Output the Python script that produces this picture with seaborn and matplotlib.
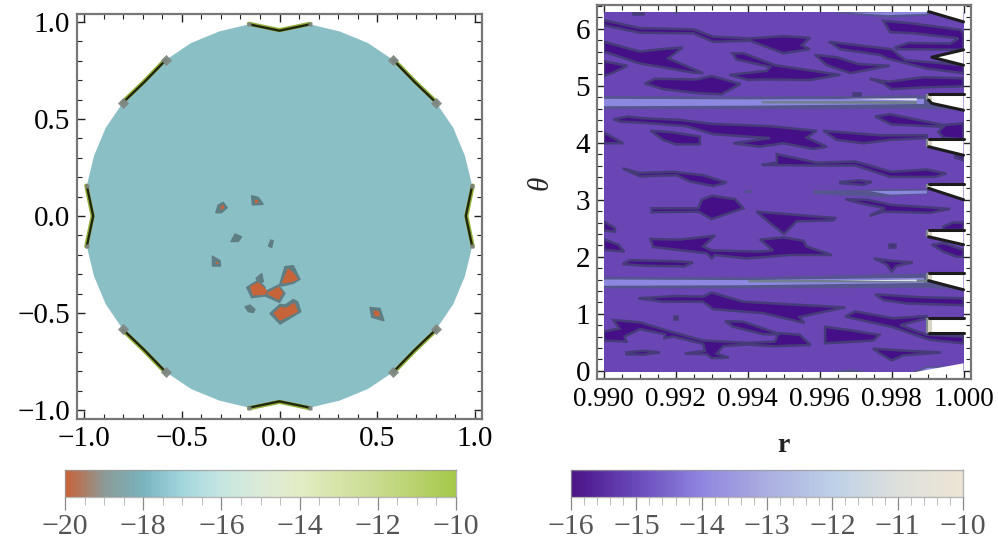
import numpy as np
import matplotlib
matplotlib.use("Agg")
import matplotlib.pyplot as plt
from matplotlib.colors import LinearSegmentedColormap
from matplotlib.patches import Polygon
from matplotlib.ticker import MultipleLocator
import seaborn as sns

sns.set_style("ticks")
plt.rcParams['font.family'] = ['Liberation Serif', 'DejaVu Serif']

# ---------- colour scales ----------
left_stops = ["#C8643A", "#8B9A98", "#79B4BE", "#A3D6DE", "#C6E6E2", "#DCEBD8", "#E3EDC5", "#D6E4A8", "#C9DC8F", "#B8D26E", "#A7C94A"]
right_stops = ["#4A1486", "#6A4ABB", "#8F86E0", "#ABAEE0", "#BDD0E8", "#DDE0DC", "#EDE5D5"]
left_ticks = [-20, -18, -16, -14, -12, -10]
right_ticks = [-16, -15, -14, -13, -12, -11, -10]

# ---------- left panel: disc sampled every 9 degrees ----------
disc_radii = [0.955, 1, 1, 1, 0.993, 0.978, 0.993, 1, 1, 1,
              0.955, 1, 1, 1, 0.993, 0.978, 0.993, 1, 1, 1,
              0.955, 1, 1, 1, 0.993, 0.978, 0.993, 1, 1, 1,
              0.955, 1, 1, 1, 0.993, 0.978, 0.993, 1, 1, 1]
notch_centres = [0, 5, 10, 15, 20, 25, 30, 35]

left_outer = [
    [(-.327,.017),(-.314,.057),(-.288,.070),(-.268,.043),(-.297,.017)],
    [(-.143,.105),(-.109,.096),(-.083,.060),(-.139,.057)],
    [(-.249,-.132),(-.228,-.093),(-.194,-.107),(-.211,-.131)],
    [(-.057,-.155),(-.045,-.124),(-.032,-.127),(-.040,-.162)],
    [(-.344,-.206),(-.305,-.230),(-.302,-.258),(-.344,-.258)],
    [(-.177,-.467),(-.151,-.459),(-.126,-.481),(-.134,-.497),(-.160,-.493)],
    [(-.12,-.321),(-.091,-.296),(-.083,-.338),(-.105,-.347)],
    [(-.168,-.368),(-.109,-.33),(-.074,-.368),(-.074,-.39),(-.006,-.356),(.028,-.399),(0,-.445),(-.074,-.412),(-.143,-.421)],
    [(0,-.356),(.028,-.261),(.071,-.256),(.105,-.326),(.071,-.347),(.011,-.361)],
    [(-.049,-.502),(.003,-.455),(.028,-.459),(.071,-.430),(.093,-.442),(.109,-.493),(.003,-.557)],
    [(.464,-.471),(.515,-.476),(.536,-.54),(.473,-.522)],
]
left_inner = [
    [(-.148,-.364),(-.109,-.344),(-.066,-.385),(-.074,-.402),(-.134,-.407)],
    [(-.062,-.399),(-.006,-.368),(.016,-.395),(-.006,-.430)],
    [(.015,-.344),(.045,-.273),(.074,-.299),(.091,-.326),(.062,-.338)],
    [(-.028,-.502),(.006,-.471),(.033,-.476),(.076,-.45),(.092,-.493),(.003,-.536)],
    [(.485,-.49),(.507,-.493),(.512,-.514),(.49,-.514)],
    [(-.30,.045),(-.29,.055),(-.285,.045),(-.295,.035)],
    [(-.125,.083),(-.115,.083),(-.115,.072),(-.125,.072)],
    [(-.328,-.235),(-.32,-.235),(-.32,-.243),(-.328,-.243)],
]

# ---------- right panel: r above 0.99 in units of 0.001, then theta ----------
dark_patches = [
    [(0,6.15),(1.0,6.01),(2.49,5.99),(3.04,5.86),(4.06,5.83),(4.99,5.87),(5.73,5.84),(5.5,5.71),(5.73,5.64),(4.99,5.57),(4.06,5.79),(3.04,5.77),(2.49,5.92),(1.0,5.93),(0,6.06)],
    [(0,5.77),(1,5.6),(1.74,5.65),(2.19,5.67),(1.79,5.48),(2.76,5.22),(2.49,5.23),(1,5.39),(0,5.6)],
    [(0,5.43),(0.65,5.35),(0.26,5.23),(0,5.17)],
    [(1.14,5.04),(1.42,5.12),(2.58,5.11),(3.0,5.17),(3.8,5.03),(3.27,4.85),(2.58,4.87),(1.65,4.94)],
    [(3.58,5.57),(3.88,5.57),(4.76,5.36),(6.57,5.19),(5.73,5.10),(4.43,5.11),(4.02,5.10),(3.49,5.19),(4.06,5.23),(4.53,5.26),(4.62,5.33),(3.69,5.46)],
    [(6.26,5.77),(8,5.64),(8.38,5.45),(10,5.36),(10,5.22),(8.98,5.30),(7.87,5.48),(7.68,5.54),(6.57,5.64)],
    [(5.87,5.54),(6.47,5.5),(7.08,5.38),(7.94,5.35),(6.85,5.22),(6.2,5.36)],
    [(7.77,6.14),(8.61,6.09),(9.91,5.98),(10,5.92),(10,5.63),(8.14,5.64),(8.1,5.67),(8.47,5.75),(9.63,5.74),(9.86,5.83),(8.61,5.92),(7.96,5.94)],
    [(7.4,5.12),(7.91,5.07),(8.89,5.15),(10,5.13),(10,4.99),(8.89,4.97),(8,4.94),(7.77,5.04)],
    [(6.92,4.88),(7.11,4.88),(7.11,4.84),(6.92,4.84)],
    [(0.8,6.30),(1.1,6.30),(1.1,6.26),(0.8,6.26)],
    [(0.26,4.41),(0.68,4.46),(1.09,4.43),(2.12,4.4),(3,4.33),(4.62,4.29),(5.73,4.22),(5.92,4.21),(5.64,4.09),(6.2,3.93),(5.83,3.89),(4.99,3.99),(4.34,3.93),(3.6,3.99),(4.62,4.08),(3.04,4.15),(2.3,4.29),(1.09,4.35),(0.45,4.37)],
    [(6.1,4.21),(7.68,4.13),(8.98,4.13),(8.98,4.08),(7.96,4.05),(7.22,3.99),(6.47,4.05)],
    [(7.54,4.46),(7.96,4.5),(9.44,4.31),(10,4.34),(10,4.06),(9.44,4.09),(9.3,4.19),(9.44,4.28),(8,4.32)],
    [(0,4.18),(0.54,3.99),(0,3.99)],
    [(1.3,4.21),(1.79,4.19),(2.67,4.11),(2.67,3.97),(2.02,3.97),(1.65,4.05)],
    [(4.81,3.8),(5.92,3.65),(6.99,3.67),(8,3.49),(8.98,3.53),(9.52,3.46),(9.21,3.4),(7.96,3.4),(6.99,3.6),(5.83,3.6),(4.39,3.61),(4.81,3.65)],
    [(9.77,3.8),(10,3.75),(10,3.69),(9.77,3.74)],
    [(0.52,3.55),(1,3.47),(1.93,3.49),(2.76,3.43),(3.41,3.3),(3.04,3.24),(2.39,3.32),(2.02,3.43),(1,3.41)],
    [(6.57,3.31),(7.08,3.34),(7.45,3.31),(7.22,3.26),(6.57,3.29)],
    [(1.33,2.85),(2.63,2.85),(2.72,3),(3,3.07),(3.65,3.01),(3.88,2.85),(3,2.66),(2.63,2.79),(1.33,2.78)],
    [(4.25,2.79),(6.43,2.68),(6.38,2.64),(5.36,2.62),(5.01,2.4),(4.62,2.59)],
    [(6.71,3.01),(7.31,3.0),(8,2.91),(9.63,2.84),(9.07,2.77),(7.77,2.79),(7.4,2.72),(7.82,2.85),(7.12,2.94)],
    [(0,2.62),(0.31,2.5),(0.31,2.44),(0,2.46)],
    [(0,2.31),(0.4,2.21),(0.57,2.09),(0,2.12)],
    [(1.3,2.31),(2.12,2.3),(3.09,2.37),(2.76,2.18),(3,2.11),(4.34,2.09),(4.71,2.11),(4.34,2.3),(4.99,2.34),(5.55,2.28),(5.64,2.18),(6.34,2.03),(5.18,2.03),(3.97,1.97),(3.09,2.03),(3,1.97),(2.86,2.06),(1.37,2.17)],
    [(0.52,1.87),(0.72,1.94),(2.02,1.92),(2.47,1.9),(2.25,1.83),(1.19,1.84)],
    [(7.51,1.97),(7.96,1.93),(8.59,1.9),(8.14,1.84),(8,1.74),(7.87,1.86)],
    [(7.94,2.23),(8.1,2.23),(8.1,2.17),(7.94,2.17)],
    [(9.12,2.21),(9.44,2.24),(10,2.12),(10,2.0),(9.81,2.0),(9.44,2.09)],
    [(9.44,2.53),(9.72,2.6),(10,2.6),(10,2.47),(9.44,2.47)],
    [(0.96,1.27),(1.93,1.31),(2.76,1.3),(3,1.37),(3.88,1.21),(6.71,1.11),(6.01,1.02),(5.44,0.94),(5.57,0.84),(4.43,1.01),(3.04,1.08),(2.76,1.21),(1.65,1.21)],
    [(7.54,1.34),(8.79,1.29),(10,1.27),(10,1.15),(8.42,1.18),(7.77,1.24)],
    [(0,0.69),(0.43,0.74),(0.26,0.89),(1,0.85),(1.84,0.69),(2.76,0.53),(3.97,0.49),(4.76,0.51),(4.85,0.66),(5.45,0.63),(5.75,0.45),(4.71,0.43),(3.97,0.46),(3.32,0.43),(3.14,0.3),(3.48,0.23),(3,0.22),(2.86,0.29),(2.25,0.3),(2.81,0.35),(2.76,0.47),(1.93,0.6),(1.68,0.57),(1.7,0.64),(1,0.73),(0.58,0.6),(0.63,0.51),(0,0.53)],
    [(3.37,0.87),(3.88,0.86),(4.9,0.64),(4.43,0.64),(3.6,0.77)],
    [(0.63,0.32),(1.09,0.35),(1.56,0.32),(1.09,0.28),(0.63,0.29)],
    [(1.95,0.96),(2.04,0.96),(2.04,0.91),(1.95,0.91)],
    [(6.15,0.77),(6.85,0.71),(7.66,0.63),(7.5,0.53),(6.15,0.48)],
    [(6.71,0.95),(6.99,1.04),(8.05,0.92),(8.98,0.96),(8.98,0.92),(8.24,0.8),(8.98,0.63),(10,0.6),(10,0.48),(9.07,0.54),(8,0.77)],
    [(7.48,0.39),(8.14,0.36),(9.37,0.32),(8.33,0.27),(8,0.18),(7.68,0.3)],
]
grey_specks = [
    [(1.95,6.30),(2.1,6.30),(2.1,6.26),(1.95,6.26)],
    [(3.92,3.17),(4.11,3.17),(4.11,3.12),(3.92,3.12)],
]
band_outer = [
    [(0,4.81),(4,4.80),(9.0,4.83),(9.2,4.68),(10,4.58),(9,4.60),(4,4.60),(0,4.60)],
    [(0,1.64),(4,1.63),(9.0,1.70),(9.2,1.52),(10,1.42),(9,1.46),(4,1.45),(0,1.45)],
    [(6.43,6.28),(9.03,6.30),(9.03,6.24),(7.96,6.2),(7.22,6.24)],
    [(5.83,3.16),(7.4,3.17),(8.98,3.18),(9.03,3.11),(7.68,3.05),(5.83,3.11)],
    [(6.29,-0.03),(6.85,0.02),(7.31,-0.03)],
    [(8.6,-0.03),(8.95,0.07),(9.5,0.08),(9.6,-0.03)],
]
band_light = [
    [(0,4.77),(4,4.76),(8.9,4.77),(8.9,4.68),(4,4.65),(0,4.64)],
    [(0,1.60),(4,1.59),(8.9,1.63),(8.9,1.54),(4,1.50),(0,1.49)],
    [(6.8,6.28),(8.98,6.30),(8.98,6.26),(7.9,6.24)],
    [(7.4,3.15),(8.98,3.16),(8.98,3.11),(7.96,3.09)],
    [(8.7,-0.03),(9.0,0.05),(9.4,0.05),(9.5,-0.03)],
]
band_grey = [
    [(4.39,4.73),(8.7,4.73),(8.7,4.68),(4.39,4.69)],
    [(4.02,1.59),(6.5,1.59),(9.0,1.60),(9.0,1.55),(4.02,1.55)],
]
band_pale = [
    [(6.7,4.77),(8.7,4.78),(8.7,4.74)],
    [(6.5,1.58),(8.7,1.60),(8.7,1.57)],
]
# each notch: upper edge, tip, lower edge (open towards r = 1)
notches = [
    [(9.03,6.30),(10,6.12)],
    [(10,5.63),(9.12,5.50),(10,5.36)],
    [(10,4.85),(9.03,4.85),(9.03,4.75),(9.12,4.69),(10,4.57)],
    [(10,4.06),(9.03,4.06),(9.03,3.93),(10,3.78)],
    [(10,3.27),(9.03,3.27),(9.03,3.2),(10,3.0)],
    [(10,2.47),(9.03,2.47),(9.03,2.35),(10,2.21)],
    [(10,1.71),(9.03,1.71),(9.03,1.58),(10,1.42)],
    [(10,0.92),(9.03,0.92),(9.03,0.66),(10,0.66)],
]
notch_top_wedge = [(10,6.30),(9.03,6.30),(10,6.12)]
corner_cut = [(8.61,-0.03),(10,0.13),(10,-0.03)]

TEAL, ORANGE, EDGE_L = "#8BBFC6", "#C8643A", "#5E7E84"
PURPLE, DARK, EDGE_R = "#6A45B4", "#450F88", "#463C7A"


def to_xy(poly):
    a = np.array(poly, dtype=float)
    return 0.99 + 0.001 * a[:, 0], a[:, 1]


def style_axes(ax):
    for s in ax.spines.values():
        s.set_color("#777777")
        s.set_linewidth(1.6)
    ax.tick_params(which="major", direction="in", length=6, width=1.0, color="#222222",
                   top=True, right=True, labelsize=21, pad=5, labelcolor="black")
    ax.tick_params(which="minor", direction="in", length=3.5, width=0.8, color="#222222",
                   top=True, right=True)


fig = plt.figure(figsize=(9.98, 5.5), dpi=100)
W, H = 998.0, 550.0
ax = fig.add_axes([77/W, 1-419/H, 405/W, 405/H])
ax2 = fig.add_axes([597/W, 1-378.7/H, 373.7/W, 373.7/H])
cb1 = fig.add_axes([65/W, 1-497/H, 391/W, 27/H])
cb2 = fig.add_axes([571/W, 1-497/H, 392/W, 27/H])

# left panel
ang = np.deg2rad(np.arange(40) * 9.0)
rad = np.array(disc_radii, dtype=float)
dx, dy = rad * np.cos(ang), rad * np.sin(ang)
ax.fill(dx, dy, color=TEAL, lw=0)
for c in notch_centres:
    idx = [(c + k) % 40 for k in (-1, 0, 1)]
    x, y = dx[idx], dy[idx]
    diag = c % 10 == 5
    sns.lineplot(x=x * 1.003, y=y * 1.003, sort=False, estimator=None, color="#93B23C", lw=3.0, ax=ax, legend=False)
    sns.lineplot(x=x, y=y, sort=False, estimator=None, color="#23260F", lw=1.7, ax=ax, legend=False)
    ax.plot(x[[0, 2]], y[[0, 2]], ls="none", marker="s" if not diag else (4, 0, 0),
            ms=8 if diag else 3, mfc="#808884", mec="none", alpha=0.95)
for p in left_outer:
    ax.add_patch(Polygon(p, closed=True, fc=EDGE_L, ec=EDGE_L, lw=1))
for p in left_inner:
    ax.add_patch(Polygon(p, closed=True, fc=ORANGE, ec=ORANGE, lw=0.8))
ax.set_xlim(-1.038, 1.038)
ax.set_ylim(-1.046, 1.041)
ax.xaxis.set_minor_locator(MultipleLocator(0.1))
ax.yaxis.set_minor_locator(MultipleLocator(0.1))
ax.set_xticks([-1, -0.5, 0, 0.5, 1], ["\u22121.0", "\u22120.5", "0.0", "0.5", "1.0"])
ax.set_yticks([-1, -0.5, 0, 0.5, 1], ["\u22121.0", "\u22120.5", "0.0", "0.5", "1.0"])
ax.set_xlabel("")
ax.set_ylabel("")
style_axes(ax)

# right panel
bg = ax2.fill([0.99, 1.0, 1.0, 0.99], [-0.03, -0.03, 6.30, 6.30], color=PURPLE, lw=0)[0]
for polys, fc, ec, lw in ((band_outer, "#57558F", "#57558F", 0.5), (band_light, "#8C88E0", "none", 0),
                          (band_grey, "#70808F", "none", 0), (band_pale, "#E0E2F0", "none", 0),
                          (dark_patches, DARK, EDGE_R, 1.8), (grey_specks, "#55508F", "none", 0)):
    for p in polys:
        x, y = to_xy(p)
        patch = ax2.fill(x, y, fc=fc, ec=ec, lw=lw)[0]
        patch.set_clip_path(bg)
x, y = to_xy(notch_top_wedge)
ax2.fill(x, y, color="white", lw=0, zorder=3)
for p in notches:
    x, y = to_xy(p)
    ax2.fill(x, y, color="white", lw=0, zorder=3)
    if len(p) >= 4:
        tip = [len(p) - 3, len(p) - 2] if len(p) == 4 else [1, 2]
        # graded contours at the blunt tip of the notch
        ax2.plot(x[tip] - 0.00003, y[tip], color="#7F8A8E", lw=3, solid_capstyle="butt", zorder=3.5)
        ax2.plot(x[tip] + 0.00005, y[tip], color="#D9D5C4", lw=3, solid_capstyle="butt", zorder=3.5)
        sns.lineplot(x=x[:tip[0] + 1], y=y[:tip[0] + 1], sort=False, estimator=None, color="#1C1C1C", lw=2.2, ax=ax2, legend=False, zorder=4)
        sns.lineplot(x=x[tip[1]:], y=y[tip[1]:], sort=False, estimator=None, color="#1C1C1C", lw=2.2, ax=ax2, legend=False, zorder=4)
    else:
        sns.lineplot(x=x, y=y, sort=False, estimator=None, color="#1C1C1C", lw=2.2, ax=ax2, legend=False, zorder=4)
x, y = to_xy(corner_cut)
ax2.fill(x, y, color="white", lw=0, zorder=3)
ax2.set_xlim(0.98981, 1.00020)
ax2.set_ylim(-0.14, 6.416)
ax2.set_xticks([0.990, 0.992, 0.994, 0.996, 0.998, 1.000], ["0.990", "0.992", "0.994", "0.996", "0.998", "1.000"])
ax2.set_yticks(range(7), [str(i) for i in range(7)])
ax2.xaxis.set_minor_locator(MultipleLocator(0.0005))
ax2.yaxis.set_minor_locator(MultipleLocator(0.2))
ax2.set_xlabel("")
ax2.set_ylabel("")
style_axes(ax2)
ax2.tick_params(axis="x", which="major", labelsize=19.5, pad=6)
fig.text(783/W, 1-446/H, "r", fontsize=20, ha="center", va="center", fontweight="bold", color="#222222")
fig.text(541/W, 1-183/H, "\u03b8", fontsize=21, style="italic", rotation=90, ha="center", va="center")

# colour bars
def colorbar(cax, stops, ticks, minor_step):
    vmin, vmax = ticks[0], ticks[-1]
    grad = np.linspace(vmin, vmax, 300).reshape(1, -1)
    cmap = LinearSegmentedColormap.from_list("c", stops)
    sns.heatmap(grad, ax=cax, cmap=cmap, cbar=False, vmin=vmin, vmax=vmax,
                xticklabels=False, yticklabels=False)
    cax.set_xlabel("")
    cax.set_ylabel("")
    to_cell = lambda v: (np.asarray(v) - vmin) / (vmax - vmin) * 300
    minors = np.arange(vmin, vmax + 1e-9, minor_step)
    cax.set_xticks(to_cell(minors), minor=True)
    cax.set_xticks(to_cell(ticks), [str(t).replace("-", "\u2212") for t in ticks])
    cax.set_yticks([])
    cax.tick_params(axis="x", which="major", length=9.5, width=0.9, color="#888888",
                    labelsize=21.5, labelcolor="#555555", pad=3, bottom=True)
    cax.tick_params(axis="x", which="minor", length=6, width=0.7, color="#BBBBBB", bottom=True)
    for s in cax.spines.values():
        s.set_visible(True)
        s.set_color("#999999")
        s.set_alpha(0.7)
        s.set_linewidth(1.0)


colorbar(cb1, left_stops, left_ticks, 0.5)
colorbar(cb2, right_stops, right_ticks, 0.2)

fig.savefig("out.png", dpi=100)
